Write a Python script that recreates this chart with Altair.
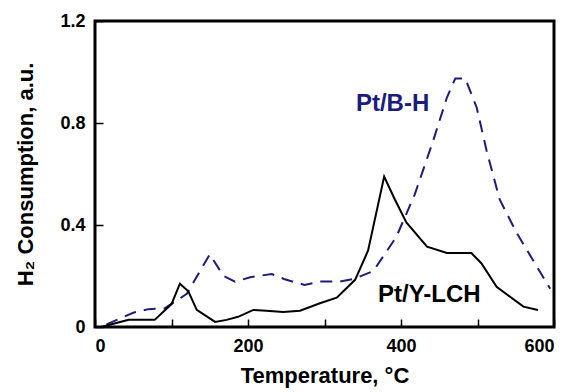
import altair as alt
import pandas as pd

# Pt/Y-LCH (solid black)
T_LCH = [8, 44, 78, 100, 111, 122, 133, 157, 172, 187, 207, 224, 246, 268, 294, 316,
         340, 357, 378, 392, 407, 434, 460, 492, 505, 525, 560, 579]
Y_LCH = [0, 0.028, 0.028, 0.09, 0.17, 0.14, 0.067, 0.02, 0.028, 0.04, 0.067, 0.064,
         0.059, 0.064, 0.093, 0.115, 0.185, 0.30, 0.59, 0.50, 0.41, 0.315, 0.29, 0.29,
         0.25, 0.158, 0.08, 0.067]

# Pt/B-H (dashed navy)
T_BH = [15, 50, 70, 91, 120, 150, 168, 183, 203, 231, 248, 274, 294, 320, 340, 364,
        394, 418, 442, 460, 471, 484, 499, 512, 529, 551, 573, 595]
Y_BH = [0.01, 0.056, 0.07, 0.073, 0.13, 0.285, 0.2, 0.178, 0.195, 0.208, 0.187, 0.165,
        0.178, 0.178, 0.19, 0.22, 0.354, 0.52, 0.73, 0.90, 0.975, 0.975, 0.86, 0.69,
        0.50, 0.37, 0.26, 0.15]

LABELS = ["Pt/B-H", "Pt/Y-LCH"]
LABEL_T = [389, 437]
LABEL_Y = [0.875, 0.125]

X_TICKS = [0, 100, 200, 300, 400, 500, 600]
Y_TICKS = [0, 0.4, 0.8, 1.2]

NAVY = "#1c1c7c"
FONT = "Liberation Sans"

df_lch = pd.DataFrame({"t": T_LCH, "h": Y_LCH})
df_bh = pd.DataFrame({"t": T_BH, "h": Y_BH})
df_lab = pd.DataFrame({"t": LABEL_T, "h": LABEL_Y, "label": LABELS,
                       "color": [NAVY, "black"]})

xscale = alt.Scale(domain=[0, 600], nice=False, zero=False)
yscale = alt.Scale(domain=[0, 1.2], nice=False)

xaxis = alt.Axis(values=X_TICKS, title="Temperature, °C", offset=-8, tickSize=8,
                 domain=False, grid=False, tickColor="black", tickWidth=1.5,
                 labelExpr="datum.value % 200 == 0 ? datum.label : ''",
                 labelFont=FONT, labelFontSize=18, labelFontWeight="bold",
                 labelColor="black", labelPadding=10, titleFont=FONT,
                 titleFontSize=22, titleFontWeight="bold", titleColor="black",
                 titlePadding=10)
yaxis = alt.Axis(values=Y_TICKS, title="H₂ Consumption, a.u.", offset=-8, tickSize=8,
                 domain=False, grid=False, tickColor="black", tickWidth=1.5,
                 labelExpr="datum.value == 0 ? '0' : format(datum.value, '.1f')",
                 labelFont=FONT, labelFontSize=18, labelFontWeight="bold",
                 labelColor="black", labelPadding=10, titleFont=FONT,
                 titleFontSize=22, titleFontWeight="bold", titleColor="black",
                 titlePadding=22)

bh = alt.Chart(df_bh).mark_line(color=NAVY, strokeWidth=2, strokeDash=[12, 8]).encode(
    x=alt.X("t:Q", scale=xscale, axis=xaxis),
    y=alt.Y("h:Q", scale=yscale, axis=yaxis),
)
lch = alt.Chart(df_lch).mark_line(color="black", strokeWidth=2).encode(
    x=alt.X("t:Q", scale=xscale),
    y=alt.Y("h:Q", scale=yscale),
)
labels = alt.Chart(df_lab).mark_text(font=FONT, fontSize=24, fontWeight="bold",
                                     align="center", baseline="middle").encode(
    x=alt.X("t:Q", scale=xscale),
    y=alt.Y("h:Q", scale=yscale),
    text="label:N",
    color=alt.Color("color:N", scale=None),
)

chart = alt.layer(bh, lch, labels).properties(
    width=459, height=306,
    autosize=alt.AutoSizeParams(type="none"),
    padding={"left": 87, "top": 13, "right": 6, "bottom": 63},
    background="white",
).configure_view(stroke="black", strokeWidth=3)

chart.save("out.html", embed_options={"renderer": "svg", "actions": False})
